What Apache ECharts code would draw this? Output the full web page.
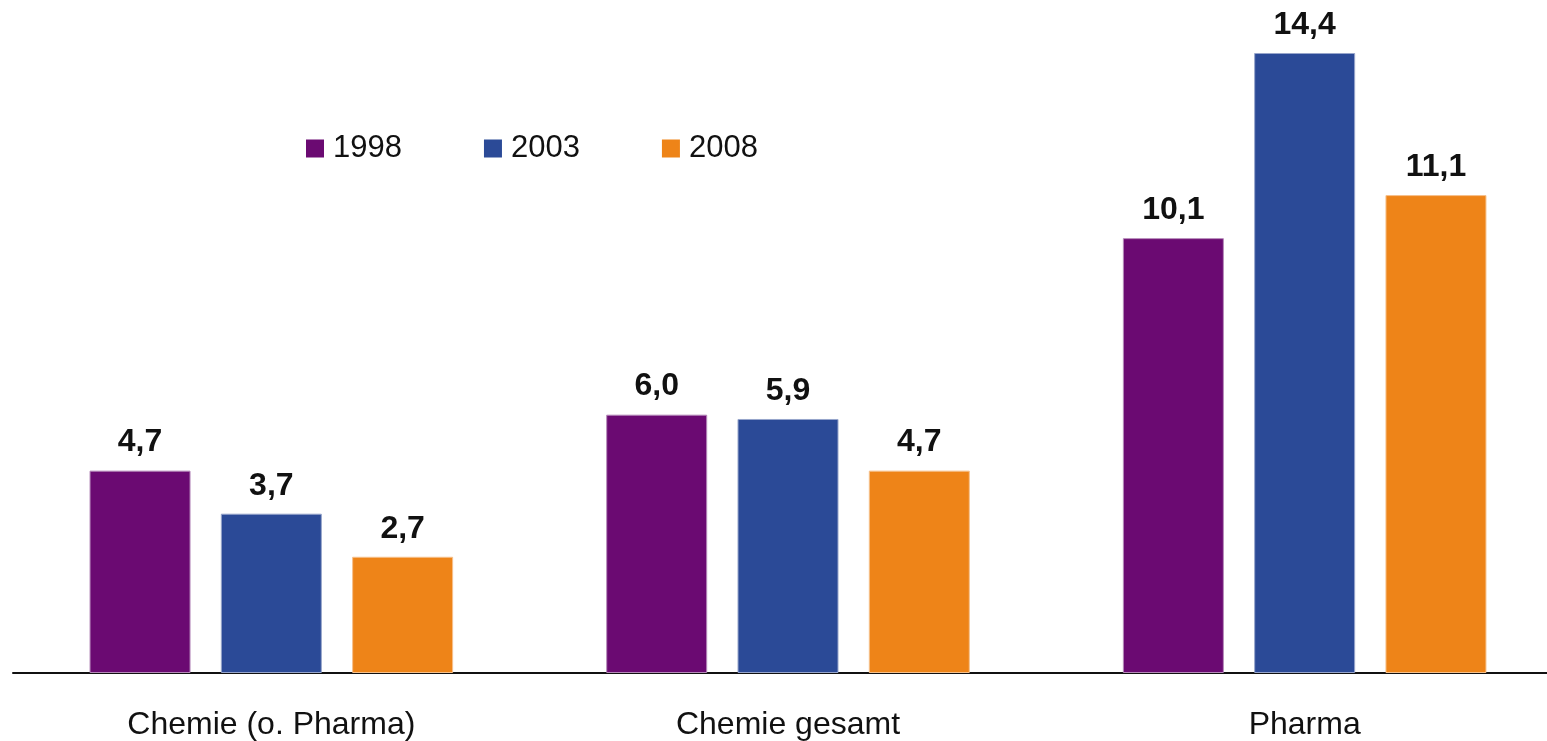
<!DOCTYPE html>
<html>
<head>
<meta charset="utf-8">
<style>
  html, body { margin: 0; padding: 0; background: #fff; }
  #chart { width: 1547px; height: 741px; }
</style>
<script src="https://cdn.jsdelivr.net/npm/echarts@6/dist/echarts.min.js"></script>
</head>
<body>
<div id="chart"></div>
<script>
// Branchen und Jahreswerte
const categories = ['Chemie (o. Pharma)', 'Chemie gesamt', 'Pharma'];
const years = ['1998', '2003', '2008'];
const values1998 = [4.7, 6.0, 10.1];
const values2003 = [3.7, 5.9, 14.4];
const values2008 = [2.7, 4.7, 11.1];
const colors = ['#6B0A72', '#2B4A97', '#EE8418'];
const edgeColors = ['#B58AB9', '#97A5CB', '#F6C18C'];

const FONT = '"Liberation Sans", Arial, sans-serif';

function makeSeries(name, data, color, edge) {
  return {
    name: name,
    type: 'bar',
    data: data,
    barWidth: 101,
    barGap: '30%',
    itemStyle: { color: color, borderColor: edge, borderWidth: 1 },
    label: {
      show: true,
      position: 'top',
      distance: 12,
      fontFamily: FONT,
      fontSize: 32,
      fontWeight: 'bold',
      color: '#111',
      formatter: p => p.value.toFixed(1).replace('.', ',')
    }
  };
}

const chart = echarts.init(document.getElementById('chart'), null, { renderer: 'canvas' });
chart.setOption({
  backgroundColor: '#fff',
  animation: false,
  legend: {
    data: years,
    left: 301,
    top: 128,
    icon: 'rect',
    itemWidth: 18,
    itemHeight: 18,
    itemGap: 82,
    itemStyle: { borderWidth: 0 },
    textStyle: { fontFamily: FONT, fontSize: 31, color: '#111', padding: [0, 0, 0, 4] }
  },
  grid: { left: 13, top: 53, width: 1550, height: 620, outerBoundsMode: 'none' },
  xAxis: {
    type: 'category',
    data: categories,
    axisLine: { lineStyle: { color: '#111', width: 2 } },
    axisTick: { show: false },
    axisLabel: { fontFamily: FONT, fontSize: 32, color: '#111', margin: 36 }
  },
  yAxis: {
    type: 'value',
    min: 0,
    max: 14.4,
    show: false,
    splitLine: { show: false }
  },
  series: [
    makeSeries(years[0], values1998, colors[0], edgeColors[0]),
    makeSeries(years[1], values2003, colors[1], edgeColors[1]),
    makeSeries(years[2], values2008, colors[2], edgeColors[2])
  ]
});
</script>
</body>
</html>
